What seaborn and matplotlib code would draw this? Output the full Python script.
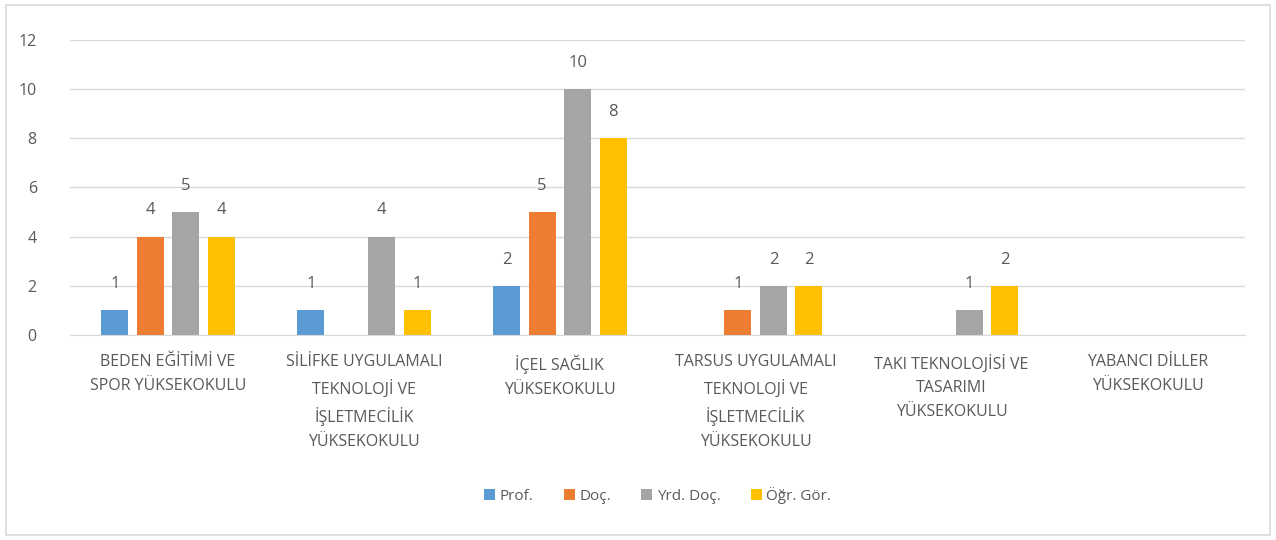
import matplotlib
matplotlib.use('Agg')
import matplotlib.pyplot as plt
import seaborn as sns
import pandas as pd
from matplotlib.patches import Rectangle

categories = [
    'BEDEN EĞİTİMİ VE\nSPOR YÜKSEKOKULU',
    'SİLİFKE UYGULAMALI\nTEKNOLOJİ VE\nİŞLETMECİLİK\nYÜKSEKOKULU',
    'İÇEL SAĞLIK\nYÜKSEKOKULU',
    'TARSUS UYGULAMALI\nTEKNOLOJİ VE\nİŞLETMECİLİK\nYÜKSEKOKULU',
    'TAKI TEKNOLOJİSİ VE\nTASARIMI\nYÜKSEKOKULU',
    'YABANCI DİLLER\nYÜKSEKOKULU',
]
series = ['Prof.', 'Doç.', 'Yrd. Doç.', 'Öğr. Gör.']
prof = [1, 1, 2, 0, 0, 0]
doc = [4, 0, 5, 1, 0, 0]
yrd_doc = [5, 4, 10, 2, 1, 0]
ogr_gor = [4, 1, 8, 2, 2, 0]
colors = ['#5B9BD5', '#ED7D31', '#A5A5A5', '#FFC000']

rows = []
for name, vals in zip(series, [prof, doc, yrd_doc, ogr_gor]):
    for cat, v in zip(categories, vals):
        rows.append({'cat': cat, 'grp': name, 'val': v})
df = pd.DataFrame(rows)

sns.set_style('white')
plt.rcParams['font.family'] = ['Open Sans', 'DejaVu Sans']

fig = plt.figure(figsize=(12.76, 5.4), dpi=100)
ax = fig.add_axes([0.055, 0.38, 0.921, 0.546])

sns.barplot(data=df, x='cat', y='val', hue='grp', order=categories,
            hue_order=series, palette=colors, width=0.725, gap=0.24,
            saturation=1, linewidth=0, ax=ax)

for cont in ax.containers:
    labels = [f'{int(b.get_height())}' if b.get_height() > 0 else '' for b in cont]
    ax.bar_label(cont, labels=labels, padding=13, fontsize=12, color='#595959')

ax.set_ylim(0, 12)
ax.set_yticks(range(0, 13, 2))
ax.set_xlim(-0.5, len(categories) - 0.5)
ax.grid(axis='y', color='#D9D9D9', linewidth=1)
ax.set_axisbelow(True)
for s in ['top', 'right', 'left']:
    ax.spines[s].set_visible(False)
ax.spines['bottom'].set_color('#D9D9D9')
ax.tick_params(axis='both', length=0, colors='#595959', labelsize=11.5)
ax.tick_params(axis='y', pad=24)
ax.tick_params(axis='x', pad=14)
for t in ax.get_xticklabels():
    t.set_linespacing(1.65)
ax.set_xlabel('')
ax.set_ylabel('')

ax.legend(loc='center', bbox_to_anchor=(0.5, -0.545), ncol=4, frameon=False,
          fontsize=11, handlelength=0.7, handleheight=0.7, handletextpad=0.3,
          columnspacing=2.0, labelcolor='#595959')

fig.patches.append(Rectangle((0.005, 0.01), 0.99, 0.98, transform=fig.transFigure,
                             fill=False, edgecolor='#D9D9D9', linewidth=1.2))

fig.savefig('out.png', dpi=100)
